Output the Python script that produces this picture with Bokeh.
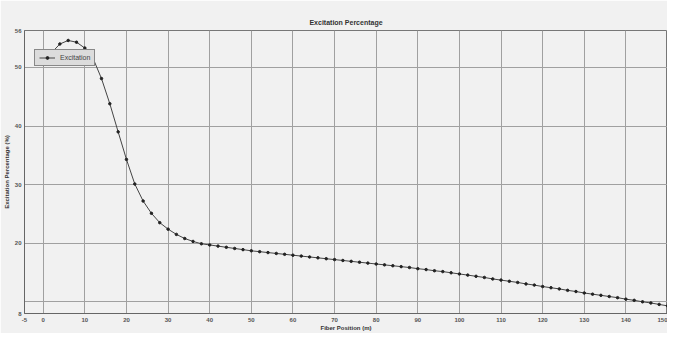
from bokeh.plotting import figure
from bokeh.models import FixedTicker, Legend, LegendItem, Range1d
from bokeh.embed import file_html
from bokeh.resources import INLINE

title_text = "Excitation Percentage"
x_label = "Fiber Position (m)"
y_label = "Excitation Percentage (%)"
series_name = "Excitation"

x_vals = [0, 2, 4, 6, 8, 10, 12, 14, 16, 18, 20, 22, 24, 26, 28, 30, 32, 34, 36, 38,
          40, 42, 44, 46, 48, 50, 52, 54, 56, 58, 60, 62, 64, 66, 68, 70, 72, 74, 76, 78,
          80, 82, 84, 86, 88, 90, 92, 94, 96, 98, 100, 102, 104, 106, 108, 110, 112, 114,
          116, 118, 120, 122, 124, 126, 128, 130, 132, 134, 136, 138, 140, 142, 144, 146,
          148, 150]
y_vals = [50.5, 52.5, 54.0, 54.6, 54.3, 53.3, 51.5, 48.1, 43.8, 39.0, 34.3, 30.1, 27.2,
          25.1, 23.5, 22.4, 21.5, 20.8, 20.3, 19.9,
          19.7, 19.5, 19.3, 19.1, 18.9, 18.7, 18.55, 18.4, 18.25, 18.1, 17.95, 17.8, 17.65,
          17.5, 17.35, 17.2, 17.05, 16.9, 16.75, 16.6, 16.45, 16.3, 16.15, 16.0, 15.85,
          15.65, 15.5, 15.3, 15.15, 14.95, 14.75, 14.55, 14.35, 14.15, 13.9, 13.7, 13.5,
          13.3, 13.05, 12.85, 12.6, 12.4, 12.2, 11.95, 11.75, 11.5, 11.3, 11.1, 10.9, 10.7,
          10.45, 10.25, 10.0, 9.8, 9.55, 9.3]

x_min, x_max = -4.5, 150
y_min, y_max = 8.0, 56.3
x_ticks = [-4.5, 0, 10, 20, 30, 40, 50, 60, 70, 80, 90, 100, 110, 120, 130, 140, 150]
x_grid = [0, 10, 20, 30, 40, 50, 60, 70, 80, 90, 100, 110, 120, 130, 140, 150]
y_ticks = [8.0, 20, 30, 40, 50, 56.3]
y_grid = [10, 20, 30, 40, 50]

FONT = "Liberation Sans"
bg = "#f1f1f1"
p = figure(width=667, height=333, output_backend="svg", toolbar_location=None,
           x_range=Range1d(x_min, x_max), y_range=Range1d(y_min, y_max),
           title=title_text,
           min_border_left=0, min_border_right=0, min_border_top=30, min_border_bottom=0)
p.background_fill_color = bg
p.border_fill_color = bg
p.outline_line_color = "#777777"

p.title.align = "center"
p.title.text_font = FONT
p.title.text_font_size = "7px"
p.title.text_font_style = "bold"
p.title.text_color = "#333333"

for ax in (p.xaxis[0], p.yaxis[0]):
    ax.major_label_text_font = FONT
    ax.major_label_text_font_size = "6px"
    ax.major_label_text_font_style = "bold"
    ax.major_label_text_color = "#555555"
    ax.axis_label_text_font = FONT
    ax.axis_label_text_font_size = "6px"
    ax.axis_label_text_font_style = "bold"
    ax.axis_label_text_color = "#333333"
    ax.major_tick_in = 0
    ax.major_tick_out = 0
    ax.minor_tick_in = 0
    ax.minor_tick_out = 0
    ax.axis_line_color = "#666666"
    ax.major_label_standoff = 3
    ax.axis_label_standoff = 2

p.xaxis.major_label_standoff = 4
p.xaxis.axis_label_standoff = 0
p.xaxis.ticker = FixedTicker(ticks=x_ticks)
p.yaxis.ticker = FixedTicker(ticks=y_ticks)
p.xaxis.major_label_overrides = {-4.5: "-5"}
p.yaxis.major_label_overrides = {8.0: "8", 56.3: "56"}
p.xaxis.axis_label = x_label
p.yaxis.axis_label = y_label

p.xgrid.ticker = FixedTicker(ticks=x_grid)
p.ygrid.ticker = FixedTicker(ticks=y_grid)
p.xgrid.grid_line_color = "#a0a0a0"
p.ygrid.grid_line_color = "#a0a0a0"

ln = p.line(x_vals, y_vals, line_color="#444444", line_width=1)
sc = p.scatter(x_vals, y_vals, size=2.5, fill_color="#222222", line_color="#222222")

legend = Legend(items=[LegendItem(label=series_name, renderers=[ln, sc])],
                location=(10, 247), orientation="vertical")
legend.label_text_font = FONT
legend.label_text_font_size = "7px"
legend.label_text_color = "#444444"
legend.glyph_width = 16
legend.glyph_height = 7
legend.label_height = 7
legend.label_standoff = 5
legend.padding = 4
legend.spacing = 0
legend.margin = 0
legend.background_fill_color = "#dcdcdc"
legend.background_fill_alpha = 1.0
legend.border_line_color = "#333333"
legend.border_line_width = 1
p.add_layout(legend)

open("out.html", "w").write(file_html(p, INLINE))
